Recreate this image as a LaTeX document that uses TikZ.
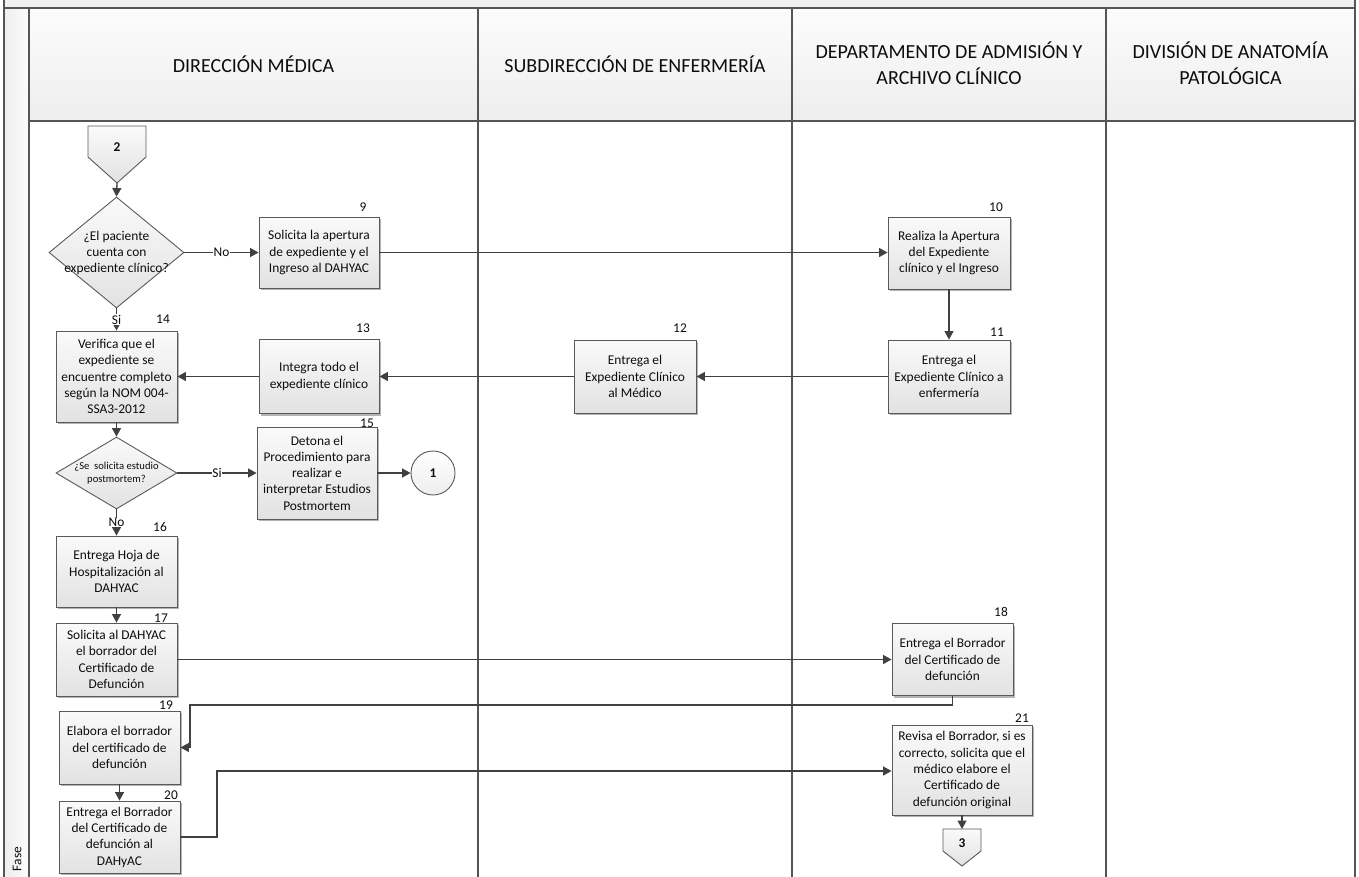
\documentclass[tikz,border=0pt]{standalone}
\usepackage{fontspec}
\setmainfont{Carlito}
\usetikzlibrary{arrows.meta,shapes.geometric,shadows,calc}
\definecolor{linec}{HTML}{404040}
\definecolor{bordc}{HTML}{5A5A5A}
\definecolor{framec}{HTML}{555555}
\definecolor{boxtop}{HTML}{FAFAFA}
\definecolor{boxbot}{HTML}{E2E2E2}
\definecolor{hdrtop}{HTML}{FCFCFC}
\definecolor{hdrbot}{HTML}{EEEEEE}
\definecolor{stripc}{HTML}{F0F0F0}
\definecolor{shad}{HTML}{B4B4B4}
\definecolor{txtc}{HTML}{0D0D0D}
\begin{document}
\begin{tikzpicture}[x=1pt,y=-1pt,
  every node/.style={text=txtc},
  proc/.style={draw=bordc, line width=0.9pt, top color=boxtop, bottom color=boxbot,
    align=center, inner sep=1pt, font=\fontsize{13.4}{16.3}\selectfont,
    general shadow={fill=shad, shadow xshift=2pt, shadow yshift=-2pt}},
  dec/.style={diamond, draw=bordc, line width=0.9pt, top color=boxtop, bottom color=boxbot, inner sep=0pt},
  dectxt/.style={align=center, inner sep=0pt},
  num/.style={inner sep=0pt, font=\fontsize{13.4}{16}\selectfont},
  lab/.style={fill=white, inner sep=0.6pt, font=\fontsize{13.4}{16}\selectfont},
  hdr/.style={align=center, inner sep=0pt, font=\fontsize{20}{25.5}\selectfont},
  arr/.style={draw=linec, line width=1.3pt, -{Triangle[length=8.5pt,width=9pt]}},
  ln/.style={draw=linec, line width=1.3pt},
  frame/.style={draw=framec, line width=1.4pt},
  offp/.style={draw=bordc, line width=0.9pt, top color=boxtop, bottom color=boxbot}
]
\useasboundingbox (0,0) rectangle (1359,876);
% lanes
\fill[stripc] (4,0) rectangle (1355,8);
\shade[top color=hdrtop, bottom color=hdrbot] (29,8) rectangle (1355,121);
\shade[left color=hdrbot, right color=hdrtop] (4,8) rectangle (29,876);
\draw[frame] (4,-2) -- (4,878);
\draw[frame] (1355,-2) -- (1355,878);
\draw[frame] (4,8) -- (1355,8);
\draw[frame] (29,8) -- (29,878);
\draw[frame] (29,121) -- (1355,121);
\draw[frame] (478,8) -- (478,878);
\draw[frame] (792,8) -- (792,878);
\draw[frame] (1106,8) -- (1106,878);
\node[hdr] (h1) at (253.5,64.5) {DIRECCIÓN MÉDICA};
\node[hdr] (h2) at (635,64.5) {SUBDIRECCIÓN DE ENFERMERÍA};
\node[hdr] (h3) at (949,63) {DEPARTAMENTO DE ADMISIÓN Y\\ARCHIVO CLÍNICO};
\node[hdr] (h4) at (1230.5,63) {DIVISIÓN DE ANATOMÍA\\PATOLÓGICA};
\node[rotate=90, inner sep=0pt, font=\fontsize{13.4}{16}\selectfont] (fase) at (17,859) {Fase};

% off-page connector 2
\draw[offp] (88,126) -- (146,126) -- (146,157) -- (117,183) -- (88,157) -- cycle;
\node[inner sep=0pt, font=\fontsize{13.4}{16}\selectfont\bfseries] (c2) at (117,147) {2};
\coordinate (c2tip) at (117,183);

% decisions
\node[dec, minimum width=135pt, minimum height=111pt] (d1) at (116.5,252.5) {};
\node[dectxt, font=\fontsize{13.4}{16.3}\selectfont] (d1t) at (116.5,253) {¿El paciente\\cuenta con\\expediente clínico?};
\node[dec, minimum width=121pt, minimum height=72pt] (d2) at (116.5,473) {};
\node[dectxt, font=\fontsize{10.6}{12.7}\selectfont] (d2t) at (116.5,473) {¿Se\ \ solicita estudio\\postmortem?};

% process boxes
\node[proc, minimum width=120pt, minimum height=71pt] (b9) at (319,252.5) {Solicita la apertura\\de expediente y el\\Ingreso al DAHYAC};
\node[proc, minimum width=122pt, minimum height=72pt] (b10) at (949,253) {Realiza la Apertura\\del Expediente\\clínico y el Ingreso};
\node[proc, minimum width=122pt, minimum height=73pt] (b11) at (949,376.5) {Entrega el\\Expediente Clínico a\\enfermería};
\node[proc, minimum width=122pt, minimum height=73pt] (b12) at (635,376.5) {Entrega el\\Expediente Clínico\\al Médico};
\node[proc, minimum width=120pt, minimum height=74pt] (b13) at (319,376.5) {Integra todo el\\expediente clínico};
\node[proc, minimum width=121pt, minimum height=91pt] (b14) at (116.5,376.5) {Verifica que el\\expediente se\\encuentre completo\\según la NOM 004-\\SSA3-2012};
\node[proc, minimum width=120pt, minimum height=92pt] (b15) at (317,473) {Detona el\\Procedimiento para\\realizar e\\interpretar Estudios\\Postmortem};
\node[circle, draw=bordc, line width=0.9pt, top color=white, bottom color=hdrbot, minimum size=44pt, inner sep=0pt, font=\fontsize{13.4}{16}\selectfont\bfseries] (c1) at (433,473) {1};
\node[proc, minimum width=121pt, minimum height=71pt] (b16) at (116.5,571.5) {Entrega Hoja de\\Hospitalización al\\DAHYAC};
\node[proc, minimum width=121pt, minimum height=73pt] (b17) at (116.5,659.5) {Solicita al DAHYAC\\el borrador del\\Certificado de\\Defunción};
\node[proc, minimum width=121pt, minimum height=72pt] (b18) at (952.5,659.5) {Entrega el Borrador\\del Certificado de\\defunción};
\node[proc, minimum width=121pt, minimum height=73pt] (b19) at (119.5,747.5) {Elabora el borrador\\del certificado de\\defunción};
\node[proc, minimum width=121pt, minimum height=72pt] (b20) at (119.5,837) {Entrega el Borrador\\del Certificado de\\defunción al\\DAHyAC};
\node[proc, minimum width=140pt, minimum height=90pt] (b21) at (962,770) {Revisa el Borrador, si es\\correcto, solicita que el\\médico elabore el\\Certificado de\\defunción original};

% off-page connector 3
\draw[offp] (943,829) -- (981,829) -- (981,851) -- (962,866) -- (943,851) -- cycle;
\node[inner sep=0pt, font=\fontsize{13.4}{16}\selectfont\bfseries] (c3) at (962,843) {3};
\coordinate (c3top) at (962,829);

% numbers
\node[num] (n9) at (363,207) {9};
\node[num] (n10) at (996,207) {10};
\node[num] (n11) at (997,332) {11};
\node[num] (n12) at (680,328) {12};
\node[num] (n13) at (363,328) {13};
\node[num] (n14) at (163,319) {14};
\node[num] (n15) at (367,423) {15};
\node[num] (n16) at (160,527) {16};
\node[num] (n17) at (161,618) {17};
\node[num] (n18) at (1001,612) {18};
\node[num] (n19) at (166,705) {19};
\node[num] (n20) at (171,795) {20};
\node[num] (n21) at (1022,718) {21};

% connectors
\draw[arr] (c2tip) -- (d1.north);
\draw[arr] (d1.east) -- node[lab] (lno1) {No} (b9.west);
\draw[arr] (b9.east) -- (b9.east -| b10.west);
\draw[arr] (b10.south) -- (b11.north);
\draw[arr] (b11.west) -- (b12.east);
\draw[arr] (b12.west) -- (b13.east);
\draw[arr] (b13.west) -- (b14.east);
\draw[arr] (d1.south) -- node[lab] (lsi1) {Si} (b14.north);
\draw[arr] (b14.south) -- (d2.north);
\draw[arr] (d2.east) -- node[lab] (lsi2) {Si} (b15.west);
\draw[arr] (b15.east) -- (c1.west);
\draw[arr] (d2.south) -- node[lab] (lno2) {No} (b16.north);
\draw[arr] (b16.south) -- (b17.north);
\draw[arr] (b17.east) -- (b17.east -| b18.west);
\coordinate (k1) at (190,705);
\draw[arr] (b18.south) |- (k1) |- (b19.east);
\draw[arr] (b19.south) -- (b20.north);
\coordinate (k2) at (217,771);
\draw[arr] (b20.east) -| (k2) -- (k2 -| b21.west);
\draw[arr] (b21.south) -- (c3top);
\end{tikzpicture}
\end{document}
